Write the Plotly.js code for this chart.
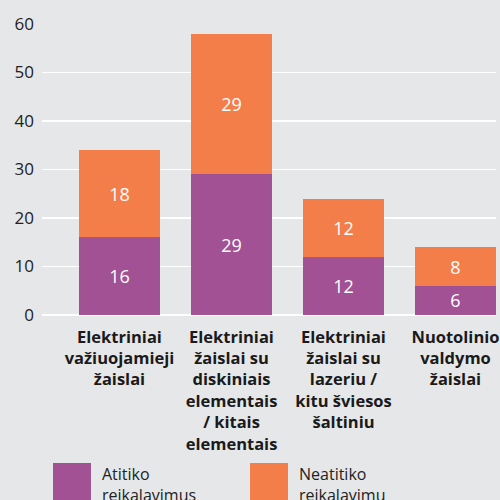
<!DOCTYPE html>
<html>
<head>
<meta charset="utf-8">
<script src="https://cdn.plot.ly/plotly-3.0.1.min.js"></script>
<style>html,body{margin:0;padding:0;background:#e6e7e9;}#chart{width:500px;height:500px;}</style>
</head>
<body>
<div id="chart"></div>
<script>
const categories = [
  "Elektriniai<br>važiuojamieji<br>žaislai",
  "Elektriniai<br>žaislai su<br>diskiniais<br>elementais<br>/ kitais<br>elementais",
  "Elektriniai<br>žaislai su<br>lazeriu /<br>kitu šviesos<br>šaltiniu",
  "Nuotolinio<br>valdymo<br>žaislai"
];
const seriesNames = ["Atitiko<br>reikalavimus", "Neatitiko<br>reikalavimų"];
const compliant = [16, 29, 12, 6];
const nonCompliant = [18, 29, 12, 8];
const yTicks = [0, 10, 20, 30, 40, 50, 60];

const purple = "#a15194";
const orange = "#f37e4a";
const bg = "#e6e7e9";

const traces = [
  {type: "bar", x: categories, y: compliant, name: seriesNames[0], marker: {color: purple},
   text: compliant.map(String), textposition: "inside", insidetextanchor: "middle",
   textangle: 0, constraintext: "none",
   textfont: {color: "#ffffff", size: 18, family: "Open Sans"}, hoverinfo: "none"},
  {type: "bar", x: categories, y: nonCompliant, name: seriesNames[1], marker: {color: orange},
   text: nonCompliant.map(String), textposition: "inside", insidetextanchor: "middle",
   textangle: 0, constraintext: "none",
   textfont: {color: "#ffffff", size: 18, family: "Open Sans"}, hoverinfo: "none"}
];

const legendColors = [purple, orange];
const legendX = [53, 250];
const shapes = [];
const annotations = [];
seriesNames.forEach((n, i) => {
  shapes.push({type: "rect", xref: "paper", yref: "paper",
    x0: (legendX[i] - 42) / 454, x1: (legendX[i] + 38 - 42) / 454,
    y0: (315 - 463) / 291, y1: (315 - 520) / 291,
    fillcolor: legendColors[i], line: {width: 0}});
  annotations.push({xref: "paper", yref: "paper", x: (legendX[i] + 47 - 42) / 454, y: (315 - 461) / 291,
    xanchor: "left", yanchor: "top", align: "left", showarrow: false, text: n,
    font: {family: "Open Sans", size: 16, color: "#222"}});
});

const layout = {
  width: 500, height: 500,
  margin: {l: 42, r: 4, t: 24, b: 185},
  paper_bgcolor: bg, plot_bgcolor: bg,
  barmode: "stack", bargap: 0.277,
  showlegend: false,
  font: {family: "Open Sans", color: "#222"},
  xaxis: {type: "category", range: [-0.692, 3.3616], showgrid: false, zeroline: false,
    tickfont: {family: "Open Sans", size: 16.5, color: "#1a1a1a", weight: "bold"},
    ticks: "", ticklabelstandoff: 10, fixedrange: true},
  yaxis: {range: [0, 60], tickvals: yTicks, ticktext: yTicks.map(String),
    showgrid: true, gridcolor: "#ffffff", gridwidth: 1.5,
    zeroline: true, zerolinecolor: "#ffffff", zerolinewidth: 1.5,
    tickfont: {family: "Open Sans", size: 17, color: "#222"}, ticks: "", ticklabelstandoff: 7, fixedrange: true},
  shapes: shapes, annotations: annotations
};

Plotly.newPlot("chart", traces, layout, {displayModeBar: false, staticPlot: true});
</script>
</body>
</html>
